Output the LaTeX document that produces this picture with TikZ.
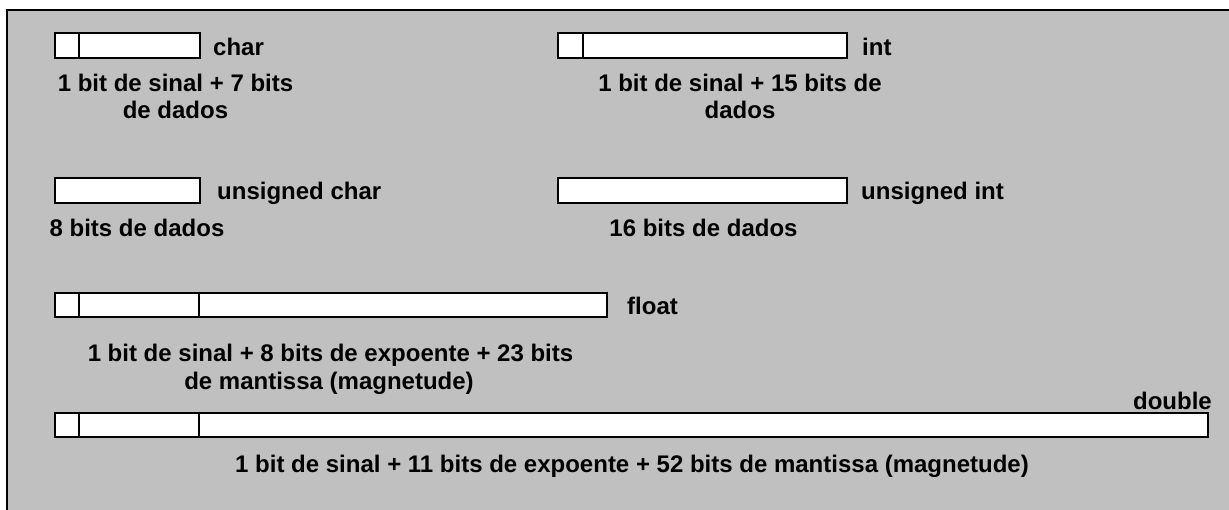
\documentclass[tikz,border=0pt]{standalone}
\usepackage{fontspec}
\setmainfont{Liberation Sans}
\definecolor{panel}{HTML}{C0C0C0}
\begin{document}
\begin{tikzpicture}[x=1pt,y=-1pt,
  field/.style={draw, line width=1.5pt, fill=white, inner sep=0pt, outer sep=0pt, anchor=north west, minimum height=25pt},
  divline/.style={line width=1.5pt},
  lbl/.style={font=\bfseries\fontsize{24}{27}\selectfont, inner sep=0pt, anchor=base west},
  desc/.style={font=\bfseries\fontsize{24}{27}\selectfont, inner sep=0pt, anchor=base}]
\useasboundingbox (0,0) rectangle (1229,509);
\clip (0,0) rectangle (1229,509);
\fill[white] (0,0) rectangle (1229,509);
\draw[line width=1.5pt, fill=panel] (7,10) rectangle (1245,525);

% char
\node[field, minimum width=145pt] (char) at (55,33) {};
\draw[divline] ([xshift=24pt]char.north west) -- ([xshift=24pt]char.south west);
\node[lbl] (charl) at (213,55) {char};
\node[desc] (chard1) at (175.5,91.5) {1 bit de sinal + 7 bits};
\node[desc] (chard2) at (175.5,118.5) {de dados};

% int
\node[field, minimum width=289pt] (int) at (558,33) {};
\draw[divline] ([xshift=25pt]int.north west) -- ([xshift=25pt]int.south west);
\node[lbl] (intl) at (862,55) {int};
\node[desc] (intd1) at (740,91.5) {1 bit de sinal + 15 bits de};
\node[desc] (intd2) at (740,118.5) {dados};

% unsigned char
\node[field, minimum width=145pt] (uchar) at (55,178) {};
\node[lbl] (ucharl) at (217,199) {unsigned char};
\node[desc] (uchard) at (137,236) {8 bits de dados};

% unsigned int
\node[field, minimum width=289pt] (uint) at (558,178) {};
\node[lbl] (uintl) at (861,199) {unsigned int};
\node[desc] (uintd) at (703.5,236) {16 bits de dados};

% float
\node[field, minimum width=552pt, minimum height=24pt] (float) at (55,293) {};
\draw[divline] ([xshift=24pt]float.north west) -- ([xshift=24pt]float.south west);
\draw[divline] ([xshift=144pt]float.north west) -- ([xshift=144pt]float.south west);
\node[lbl] (floatl) at (627,314) {float};
\node[desc] (floatd1) at (330.5,361.5) {1 bit de sinal + 8 bits de expoente + 23 bits};
\node[desc] (floatd2) at (329,389.5) {de mantissa (magnetude)};

% double
\node[field, minimum width=1153pt, minimum height=24pt] (double) at (55,413) {};
\draw[divline] ([xshift=24pt]double.north west) -- ([xshift=24pt]double.south west);
\draw[divline] ([xshift=144pt]double.north west) -- ([xshift=144pt]double.south west);
\node[lbl, anchor=base east] (doublel) at (1212,409) {double};
\node[desc] (doubled) at (632,472) {1 bit de sinal + 11 bits de expoente + 52 bits de mantissa (magnetude)};
\end{tikzpicture}
\end{document}
